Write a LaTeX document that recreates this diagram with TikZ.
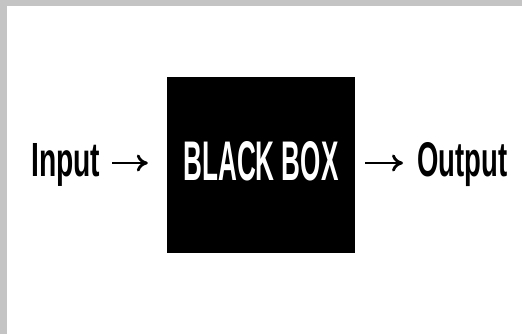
\documentclass[tikz,border=0pt]{standalone}
\usepackage{fontspec}
\setmainfont{Liberation Sans}
\usetikzlibrary{arrows.meta,calc}
\definecolor{framegray}{HTML}{C4C4C4}
\begin{document}
\begin{tikzpicture}[x=1pt,y=-1pt,
  word/.style={inner sep=0pt, anchor=base west, font=\bfseries},
  flow/.style={line width=2.8pt, -{Computer Modern Rightarrow[length=11pt,width=17pt,line width=2.8pt]}}]
  % page with a grey frame on the top and left
  \fill[framegray] (0,0) rectangle (522,334);
  \fill[white] (7,6) rectangle (522,334);
  \useasboundingbox (0,0) rectangle (522,334);
  % the box itself
  \node[fill=black, text=white, font=\bfseries, inner sep=0pt,
        minimum width=188pt, minimum height=176pt,
        text height=39pt, text depth=9pt] (box) at (261,165)
        {\resizebox{155pt}{39pt}{BLACK BOX}};
  % input and output labels
  \node[word] (in)  at (31,176)  {\resizebox{69pt}{33pt}{Input}};
  \node[word] (out) at (417,176) {\resizebox{90pt}{34pt}{Output}};
  % arrows
  \draw[flow] ($(in.base east)+(12,-13)$) -- ($(box.west)+(-19,-2)$);
  \draw[flow] ($(box.east)+(10,-2)$) -- ($(out.base west)+(-14,-13)$);
\end{tikzpicture}
\end{document}
